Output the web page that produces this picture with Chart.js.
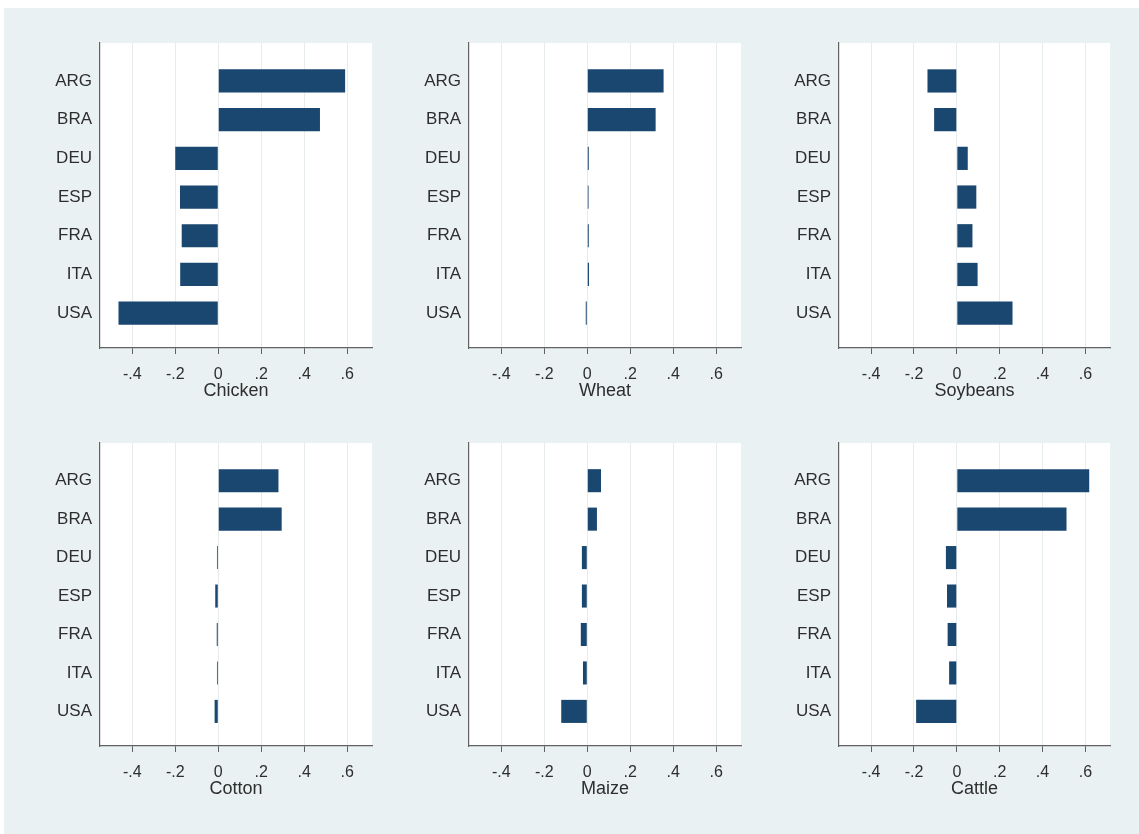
<!DOCTYPE html>
<html>
<head>
<meta charset="utf-8">
<script src="https://cdn.jsdelivr.net/npm/chart.js@4/dist/chart.umd.min.js"></script>
<style>
  html, body { margin: 0; padding: 0; background: #ffffff; }
  #frame { position: absolute; left: 4px; top: 8px; width: 1135px; height: 826px; background: #eaf1f3; }
  canvas { position: absolute; }
</style>
</head>
<body>
<div id="frame"></div>
<script>
// Country categories, top to bottom
const countries = ['ARG', 'BRA', 'DEU', 'ESP', 'FRA', 'ITA', 'USA'];

// One value per country for each commodity
const chicken  = [0.590, 0.473, -0.200, -0.178, -0.170, -0.177, -0.464];
const wheat    = [0.355, 0.318, 0.007, 0.006, 0.007, 0.008, -0.007];
const soybeans = [-0.137, -0.106, 0.051, 0.091, 0.073, 0.097, 0.260];
const cotton   = [0.280, 0.295, -0.006, -0.014, -0.007, -0.006, -0.017];
const maize    = [0.064, 0.045, -0.025, -0.025, -0.030, -0.020, -0.121];
const cattle   = [0.618, 0.512, -0.051, -0.046, -0.043, -0.036, -0.190];

// Shared horizontal axis ticks
const xTickValues = [-0.4, -0.2, 0, 0.2, 0.4, 0.6];
const xTickLabels = ['-.4', '-.2', '0', '.2', '.4', '.6'];

const panels = [
  { title: 'Chicken',  values: chicken,  col: 0, row: 0 },
  { title: 'Wheat',    values: wheat,    col: 1, row: 0 },
  { title: 'Soybeans', values: soybeans, col: 2, row: 0 },
  { title: 'Cotton',   values: cotton,   col: 0, row: 1 },
  { title: 'Maize',    values: maize,    col: 1, row: 1 },
  { title: 'Cattle',   values: cattle,   col: 2, row: 1 }
];

// Plot-region edges for each column / row of the grid
const colEdges = [[100, 372], [469, 741], [839, 1110]];
const rowEdges = [[43, 348], [443, 746]];

const Y_AXIS_W = 95, PAD_TOP = 10, PAD_RIGHT = 8, X_AXIS_H = 60;
const BAR_COLOR = '#1a476f';
const TEXT_COLOR = '#2e2e2e';
const AXIS_COLOR = '#626262';
const FONT = 'Liberation Sans, Arial, Helvetica, sans-serif';

// White plot region behind the bars
const plotFill = {
  id: 'plotFill',
  beforeDraw(chart) {
    const { ctx, chartArea: a } = chart;
    ctx.save();
    ctx.fillStyle = '#ffffff';
    ctx.fillRect(a.left, a.top, a.right - a.left, a.bottom - a.top);
    ctx.restore();
  }
};

panels.forEach(p => {
  const [L, R] = colEdges[p.col];
  const [T, B] = rowEdges[p.row];
  const canvas = document.createElement('canvas');
  const w = R - L + Y_AXIS_W + PAD_RIGHT;
  const h = B - T + PAD_TOP + X_AXIS_H;
  canvas.width = w;
  canvas.height = h;
  canvas.style.left = (L - Y_AXIS_W) + 'px';
  canvas.style.top = (T - PAD_TOP) + 'px';
  canvas.style.width = w + 'px';
  canvas.style.height = h + 'px';
  document.body.appendChild(canvas);

  new Chart(canvas, {
    type: 'bar',
    data: {
      datasets: [{
        data: p.values.map((v, i) => ({ x: v, y: i })),
        backgroundColor: BAR_COLOR,
        borderWidth: 0,
        barPercentage: 0.6,
        categoryPercentage: 1
      }]
    },
    options: {
      indexAxis: 'y',
      responsive: false,
      animation: false,
      layout: { padding: { top: PAD_TOP, right: PAD_RIGHT, left: 0, bottom: 0 } },
      plugins: { legend: { display: false }, tooltip: { enabled: false } },
      scales: {
        x: {
          type: 'linear',
          min: -0.55,
          max: 0.715,
          offset: false,
          afterBuildTicks: s => { s.ticks = xTickValues.map(v => ({ value: v })); },
          afterFit: s => { s.height = X_AXIS_H; s.paddingLeft = 0; s.paddingRight = 0; },
          ticks: {
            callback: v => xTickLabels[xTickValues.indexOf(v)],
            autoSkip: false,
            maxRotation: 0,
            padding: 11,
            color: TEXT_COLOR,
            font: { family: FONT, size: 16 }
          },
          grid: { color: '#e6ecee', tickColor: AXIS_COLOR, tickLength: 6, lineWidth: 1, offset: false },
          border: { color: AXIS_COLOR, width: 1.2 },
          title: {
            display: true,
            text: p.title,
            color: TEXT_COLOR,
            font: { family: FONT, size: 18 },
            padding: { top: 0, bottom: 6 }
          }
        },
        y: {
          type: 'linear',
          reverse: true,
          offset: false,
          min: -0.98,
          max: 6.90,
          afterBuildTicks: s => { s.ticks = countries.map((c, i) => ({ value: i })); },
          afterFit: s => { s.width = Y_AXIS_W; s.paddingTop = 0; s.paddingBottom = 0; },
          ticks: {
            callback: v => countries[v],
            autoSkip: false,
            padding: 8,
            color: TEXT_COLOR,
            font: { family: FONT, size: 17 }
          },
          grid: { display: false, drawTicks: false, offset: false },
          border: { display: true, color: AXIS_COLOR, width: 1.2 }
        }
      }
    },
    plugins: [plotFill]
  });
});
</script>
</body>
</html>
